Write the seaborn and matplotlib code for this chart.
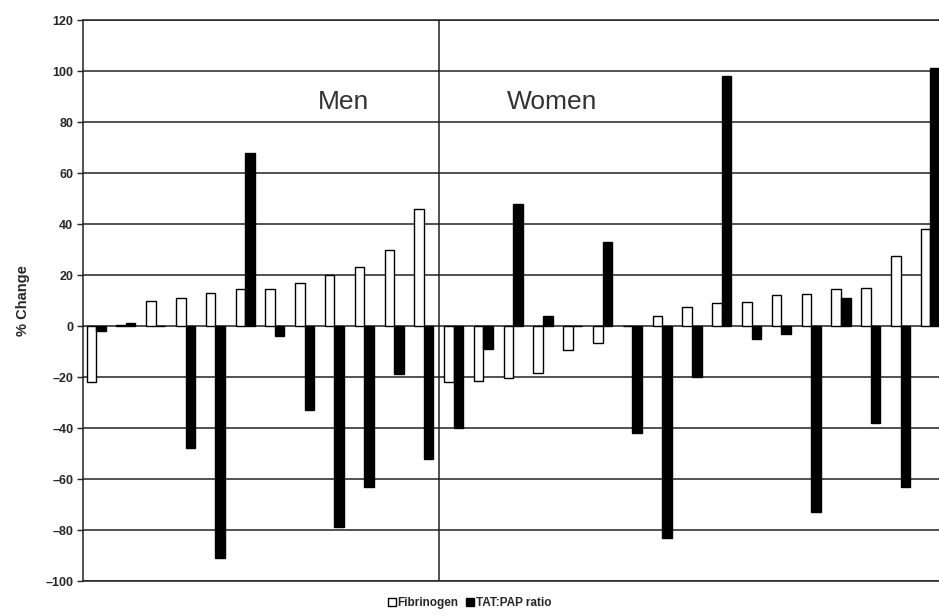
import numpy as np
import pandas as pd
import matplotlib
matplotlib.use("Agg")
import matplotlib.pyplot as plt
from matplotlib.patches import Patch
import seaborn as sns

# Percent change per subject, men first then women
men_fibrinogen = [-22, 0.5, 10, 11, 13, 14.5, 14.5, 17, 20, 23, 30, 46]
men_tatpap = [-2, 1, 0, -48, -91, 68, -4, -33, -79, -63, -19, -52]
women_fibrinogen = [-22, -21.5, -20.5, -18.5, -9.5, -6.7, 0, 4, 7.5, 9, 9.5,
                    12, 12.5, 14.5, 15, 27.5, 38]
women_tatpap = [-40, -9, 48, 4, 0, 33, -42, -83, -20, 98, -5, -3, -73, 11,
                -38, -63, 101]
series_names = ["Fibrinogen", "TAT:PAP ratio"]
y_ticks = [-100, -80, -60, -40, -20, 0, 20, 40, 60, 80, 100, 120]
group_labels = ["Men", "Women"]

fib = men_fibrinogen + women_fibrinogen
tat = men_tatpap + women_tatpap
n_men = len(men_fibrinogen)
subjects = list(range(len(fib)))

df = pd.DataFrame({
    "subject": subjects * 2,
    "series": [series_names[0]] * len(fib) + [series_names[1]] * len(tat),
    "value": fib + tat,
})

sns.set_theme(style="white")
plt.rcParams["font.family"] = ["Liberation Sans", "DejaVu Sans"]

fig = plt.figure(figsize=(9.39, 6.16), dpi=100)
ax = fig.add_axes([0.0884, 0.0568, 0.9116, 0.9107])

palette = {series_names[0]: "white", series_names[1]: "black"}
sns.barplot(data=df, x="subject", y="value", hue="series", order=subjects,
            hue_order=series_names, palette=palette, edgecolor="black",
            linewidth=1.0, width=0.64, saturation=1, legend=False, ax=ax,
            zorder=3)

ax.set_ylim(y_ticks[0], y_ticks[-1])
ax.set_xlim(-0.44, len(fib) - 0.71)
ax.set_yticks(y_ticks)
ax.set_yticklabels([str(t).replace("-", "\u2013") for t in y_ticks],
                   fontsize=9, fontweight="bold")
ax.set_xticks([])
ax.set_xlabel("")
ax.set_ylabel("% Change", fontsize=10.5, fontweight="bold", labelpad=11)
ax.yaxis.grid(True, color="#222222", linewidth=1.1)
ax.set_axisbelow(True)
ax.tick_params(axis="y", which="major", left=True, length=4, width=1,
               color="#222222", pad=3)

for side in ["left", "top", "bottom"]:
    ax.spines[side].set_color("#222222")
    ax.spines[side].set_linewidth(1.1)
ax.spines["right"].set_visible(False)

# Divider between the two groups of subjects
ax.axvline(n_men - 0.5, color="#222222", linewidth=1.1, zorder=4)

ax.text(8.3, 88, group_labels[0], fontsize=19, color="#333333",
        ha="center", va="center")
ax.text(15.3, 88, group_labels[1], fontsize=19, color="#333333",
        ha="center", va="center")

handles = [Patch(facecolor="white", edgecolor="black", linewidth=1.0),
           Patch(facecolor="black", edgecolor="black", linewidth=1.0)]
fig.legend(handles, series_names, loc="center", bbox_to_anchor=(0.5, 0.021),
           ncol=2, frameon=False, handlelength=0.7, handleheight=0.7,
           handletextpad=0.15, columnspacing=0.6,
           prop={"size": 8.5, "weight": "bold"})

fig.savefig("out.png", dpi=100)
